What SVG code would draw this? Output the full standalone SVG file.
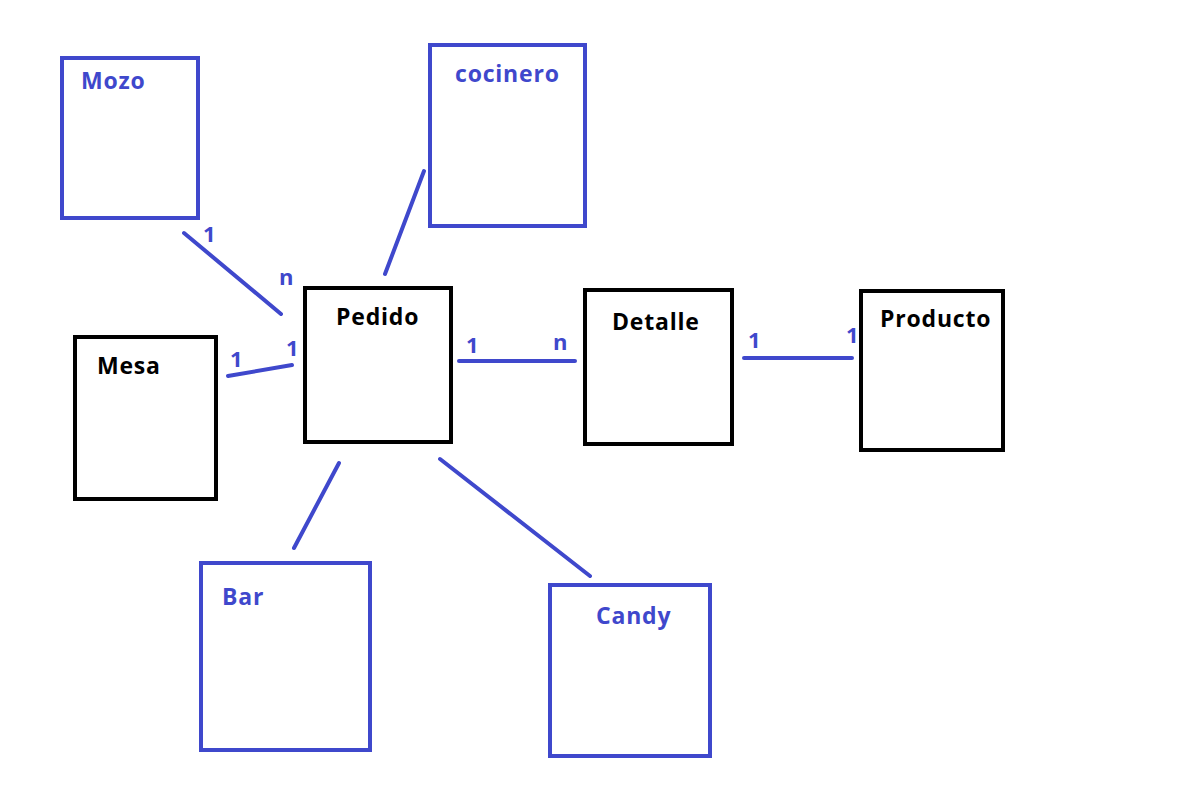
<svg xmlns="http://www.w3.org/2000/svg" width="1186" height="791" viewBox="0 0 1186 791">
<style>
.b{fill:none;stroke:#3F48CC;stroke-width:4}
.k{fill:none;stroke:#000;stroke-width:4}
.tb{font-family:"Open Sans","Noto Sans",sans-serif;font-weight:bold;font-size:23px;letter-spacing:0.8px;fill:#3F48CC}
.tk{font-family:"Open Sans","Noto Sans",sans-serif;font-weight:bold;font-size:23px;letter-spacing:0.8px;fill:#000}
.c{stroke:#3F48CC;stroke-width:4;stroke-linecap:round;fill:none}
.l{font-family:"Open Sans","Noto Sans",sans-serif;font-weight:bold;font-size:22px;fill:#3F48CC}
</style>
<rect width="1186" height="791" fill="#fff"/>
<g id="mozo"><rect class="b" x="62" y="58" width="136" height="160"/><text class="tb" x="81" y="89">Mozo</text></g>
<g id="cocinero"><rect class="b" x="430" y="45" width="155" height="181"/><text class="tb" x="455" y="82">cocinero</text></g>
<g id="mesa"><rect class="k" x="75" y="337" width="141" height="162"/><text class="tk" x="97" y="374">Mesa</text></g>
<g id="pedido"><rect class="k" x="305" y="288" width="146" height="154"/><text class="tk" x="336" y="325">Pedido</text></g>
<g id="detalle"><rect class="k" x="585" y="290" width="147" height="154"/><text class="tk" x="612" y="330">Detalle</text></g>
<g id="producto"><rect class="k" x="861" y="291" width="142" height="159"/><text class="tk" x="880" y="327">Producto</text></g>
<g id="bar"><rect class="b" x="201" y="563" width="169" height="187"/><text class="tb" x="222" y="605">Bar</text></g>
<g id="candy"><rect class="b" x="550" y="585" width="160" height="171"/><text class="tb" x="596" y="624">Candy</text></g>
<g id="connectors">
<line class="c" x1="184" y1="233" x2="281" y2="314"/>
<line class="c" x1="228" y1="376" x2="292" y2="365"/>
<line class="c" x1="424" y1="171" x2="385" y2="274"/>
<line class="c" x1="459" y1="361" x2="575" y2="361"/>
<line class="c" x1="744" y1="358" x2="852" y2="358"/>
<line class="c" x1="339" y1="463" x2="294" y2="548"/>
<line class="c" x1="440" y1="459" x2="590" y2="576"/>
<text class="l" x="203" y="242">1</text>
<text class="l" x="279" y="285">n</text>
<text class="l" x="230" y="367">1</text>
<text class="l" x="286" y="356">1</text>
<text class="l" x="466" y="353">1</text>
<text class="l" x="553" y="350">n</text>
<text class="l" x="748" y="348">1</text>
<text class="l" x="846" y="343">1</text>
</g>
</svg>
